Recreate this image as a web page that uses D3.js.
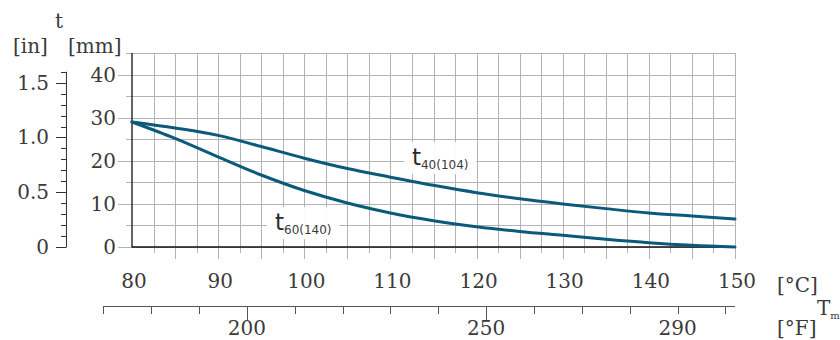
<!DOCTYPE html>
<html>
<head>
<meta charset="utf-8">
<script src="https://cdn.jsdelivr.net/npm/d3@7"></script>
<style>
  html, body { margin: 0; padding: 0; background: #fff; }
  svg { display: block; }
</style>
</head>
<body>
<svg id="chart" width="840" height="340"></svg>
<script>
// ---- data ----
const tempC = [80, 85, 90, 95, 100, 105, 110, 115, 120, 125, 130, 135, 140, 145, 150];
const t40 = [29.0, 27.6, 25.9, 23.3, 20.6, 18.2, 16.2, 14.3, 12.6, 11.2, 10.0, 8.9, 7.9, 7.2, 6.5];
const t60 = [29.0, 25.2, 20.9, 16.7, 13.1, 10.2, 7.9, 6.1, 4.7, 3.6, 2.7, 1.8, 1.0, 0.4, 0.0];
const cTicks = [80, 90, 100, 110, 120, 130, 140, 150];
const mmTicks = [0, 10, 20, 30, 40];
const inTicks = [0, 0.5, 1.0, 1.5];
const inTickLabels = ["0", "0.5", "1.0", "1.5"];
const fTicks = [170, 180, 190, 200, 210, 220, 230, 240, 250, 260, 270, 280, 290, 300];
const fLabels = [200, 250, 290];
const fMajor = [200, 250];
const seriesNames = [["t", "40(104)"], ["t", "60(140)"]];
const labelPos = [[112.5, 19.0], [96.6, 3.9]];

// ---- layout ----
const FONT = "DejaVu Serif, serif";
const TXT = "#3a3a3a";
const svg = d3.select("#chart");
const x = d3.scaleLinear().domain([80, 150]).range([132, 735]);
const y = d3.scaleLinear().domain([0, 45]).range([247, 53]);
const xF = f => x((f - 32) * 5 / 9);
const yIn = v => y(v * 25.4);
const gridColor = "#b3b3b3";
const lineColor = "#0b5a7b";

function label(sel) {
  return sel.style("font-family", FONT).style("fill", TXT).attr("font-size", 20);
}

// grid: horizontal lines every 5 mm, with ticks to the left
const g = svg.append("g");
d3.range(0, 46, 5).forEach(v => {
  const major = v % 10 === 0 && v <= 40;
  g.append("line")
    .attr("x1", major ? 118 : 126).attr("x2", x(150))
    .attr("y1", Math.round(y(v)) + 0.5).attr("y2", Math.round(y(v)) + 0.5)
    .attr("stroke", gridColor).attr("stroke-width", 1);
});
// vertical lines every 2.5 °C, extending below the axis
d3.range(82.5, 150.1, 2.5).forEach(v => {
  const major = Math.abs(v % 5) < 1e-6;
  g.append("line")
    .attr("x1", Math.round(x(v)) + 0.5).attr("x2", Math.round(x(v)) + 0.5)
    .attr("y1", y(45)).attr("y2", y(0) + (major ? 12 : 6))
    .attr("stroke", gridColor).attr("stroke-width", 1);
});

// main axes (black)
svg.append("line").attr("x1", x(80)).attr("x2", x(80)).attr("y1", y(45)).attr("y2", y(0) + 0.5)
  .attr("stroke", "#111").attr("stroke-width", 1.3);
svg.append("line").attr("x1", x(80)).attr("x2", x(150)).attr("y1", y(0)).attr("y2", y(0))
  .attr("stroke", "#111").attr("stroke-width", 1.3);

// mm tick labels
label(svg.selectAll(".mmlab").data(mmTicks).enter().append("text"))
  .attr("x", 116).attr("y", d => y(d) + 7)
  .attr("text-anchor", "end")
  .text(d => d);

// °C tick labels
label(svg.selectAll(".clab").data(cTicks).enter().append("text"))
  .attr("x", d => x(d) + 2).attr("y", 288)
  .attr("text-anchor", "middle")
  .text(d => d);

// inch axis
const inAxisX = 66;
svg.append("line").attr("x1", inAxisX + 0.5).attr("x2", inAxisX + 0.5)
  .attr("y1", yIn(1.6)).attr("y2", yIn(0)).attr("stroke", "#333").attr("stroke-width", 1);
d3.range(0, 17).forEach(i => {
  const v = i / 10;
  const major = i % 5 === 0;
  svg.append("line")
    .attr("x1", inAxisX - (major ? 10 : 5)).attr("x2", inAxisX + 0.5)
    .attr("y1", Math.round(yIn(v)) + 0.5).attr("y2", Math.round(yIn(v)) + 0.5)
    .attr("stroke", "#333").attr("stroke-width", 1);
});
label(svg.selectAll(".inlab").data(inTicks).enter().append("text"))
  .attr("x", 49).attr("y", d => yIn(d) + 7)
  .attr("text-anchor", "end")
  .text((d, i) => inTickLabels[i]);

// °F axis
const fAxisY = 306;
svg.append("line").attr("x1", xF(170)).attr("x2", x(150))
  .attr("y1", fAxisY + 0.5).attr("y2", fAxisY + 0.5).attr("stroke", "#555").attr("stroke-width", 1.2);
svg.selectAll(".ftick").data(fTicks).enter().append("line")
  .attr("x1", d => Math.round(xF(d)) + 0.5).attr("x2", d => Math.round(xF(d)) + 0.5)
  .attr("y1", fAxisY).attr("y2", d => fAxisY + (fMajor.includes(d) ? 14 : 8))
  .attr("stroke", "#555").attr("stroke-width", 1);
label(svg.selectAll(".flab").data(fLabels).enter().append("text"))
  .attr("x", d => xF(d)).attr("y", 335)
  .attr("text-anchor", "middle")
  .text(d => d);

// axis titles
label(svg.append("text")).attr("x", 59).attr("y", 28).attr("text-anchor", "middle").text("t");
label(svg.append("text")).attr("x", 13).attr("y", 53).text("[in]");
label(svg.append("text")).attr("x", 68).attr("y", 53).text("[mm]");
label(svg.append("text")).attr("x", 777).attr("y", 292).text("[°C]");
label(svg.append("text")).attr("x", 777).attr("y", 335).text("[°F]");
const tm = label(svg.append("text")).attr("x", 817).attr("y", 315);
tm.append("tspan").text("T");
tm.append("tspan").attr("font-size", 10).attr("dy", 4).text("m");

// curves
const line = d3.line().x(d => x(d[0])).y(d => y(d[1])).curve(d3.curveCatmullRom.alpha(0.5));
[t40, t60].forEach(s => {
  svg.append("path")
    .datum(tempC.map((c, i) => [c, s[i]]))
    .attr("d", line)
    .attr("fill", "none").attr("stroke", lineColor).attr("stroke-width", 3)
    .attr("stroke-linecap", "round");
});

// curve labels with white boxes
seriesNames.forEach((nm, i) => {
  const lg = svg.append("g");
  const rect = lg.append("rect").attr("fill", "#fff").attr("fill-opacity", 0.92);
  const t = lg.append("text").attr("x", x(labelPos[i][0])).attr("y", y(labelPos[i][1]))
    .style("font-family", "DejaVu Sans, sans-serif").style("fill", "#2a2a2a").attr("font-size", 23);
  t.append("tspan").text(nm[0]);
  t.append("tspan").attr("font-size", 12).attr("dy", 4).style("fill", TXT).text(nm[1]);
  const bb = t.node().getBBox();
  rect.attr("x", bb.x - 8).attr("y", bb.y - 2).attr("width", bb.width + 16).attr("height", bb.height + 4);
});
</script>
</body>
</html>
